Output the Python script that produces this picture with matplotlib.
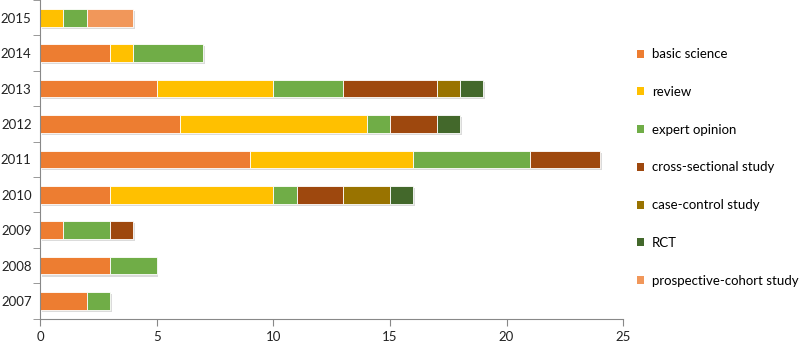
import matplotlib
matplotlib.use("Agg")
import matplotlib.pyplot as plt
import matplotlib.patheffects as pe
from matplotlib.patches import Patch
from matplotlib.ticker import FixedLocator, NullFormatter
import numpy as np

# data
years = ["2007", "2008", "2009", "2010", "2011", "2012", "2013", "2014", "2015"]
study_types = ["basic science", "review", "expert opinion", "cross-sectional study",
               "case-control study", "RCT", "prospective-cohort study"]

basic_science = [2, 3, 1, 3, 9, 6, 5, 3, 0]
review        = [0, 0, 0, 7, 7, 8, 5, 1, 1]
expert        = [1, 2, 2, 1, 5, 1, 3, 3, 1]
cross_sect    = [0, 0, 1, 2, 3, 2, 4, 0, 0]
case_control  = [0, 0, 0, 2, 0, 0, 1, 0, 0]
rct           = [0, 0, 0, 1, 0, 1, 1, 0, 0]
prospective   = [0, 0, 0, 0, 0, 0, 0, 0, 2]

series = [basic_science, review, expert, cross_sect, case_control, rct, prospective]
colors = ["#ED7D31", "#FFC000", "#70AD47", "#9E480E", "#997300", "#43682B", "#F1975A"]

plt.rcParams["font.family"] = ["Lato", "DejaVu Sans"]

fig = plt.figure(figsize=(8, 3.42), dpi=100)
ax = fig.add_axes([0.05, 0.068, 0.729, 0.932])

y = np.arange(len(years))
left = np.zeros(len(years))
shadow = [pe.SimplePatchShadow(offset=(1.2, -1.5), shadow_rgbFace="#999999", alpha=0.35),
          pe.Normal()]
for name, vals, c in zip(study_types, series, colors):
    vals = np.array(vals, dtype=float)
    bars = ax.barh(y, vals, left=left, height=0.5, color=c, edgecolor="white",
                   linewidth=0.6)
    for b, v in zip(bars, vals):
        if v > 0:
            b.set_path_effects(shadow)
        else:
            b.set_visible(False)
    left += vals

ax.set_xlim(0, 25)
ax.set_ylim(-0.5, len(years) - 0.5)
ax.set_xticks([0, 5, 10, 15, 20, 25])
ax.set_yticks(y)
ax.set_yticklabels(years)
ax.yaxis.set_minor_locator(FixedLocator(np.arange(-0.5, len(years), 1.0)))
ax.yaxis.set_minor_formatter(NullFormatter())
ax.tick_params(axis="y", which="major", length=0, labelsize=9.5, colors="#222222", pad=6)
ax.tick_params(axis="y", which="minor", length=5, color="#888888")
ax.tick_params(axis="x", which="major", length=5, color="#888888", labelsize=9.5,
               labelcolor="#222222")

for s in ["top", "right"]:
    ax.spines[s].set_visible(False)
for s in ["left", "bottom"]:
    ax.spines[s].set_color("#888888")
    ax.spines[s].set_linewidth(0.8)

handles = [Patch(facecolor=c, edgecolor="none", label=n) for n, c in zip(study_types, colors)]
ax.legend(handles=handles, loc="upper left", bbox_to_anchor=(1.015, 0.865), frameon=False,
          fontsize=9.5, handlelength=0.55, handleheight=0.55, handletextpad=0.55,
          labelspacing=1.95, borderaxespad=0)

fig.savefig("out.png", dpi=100)
